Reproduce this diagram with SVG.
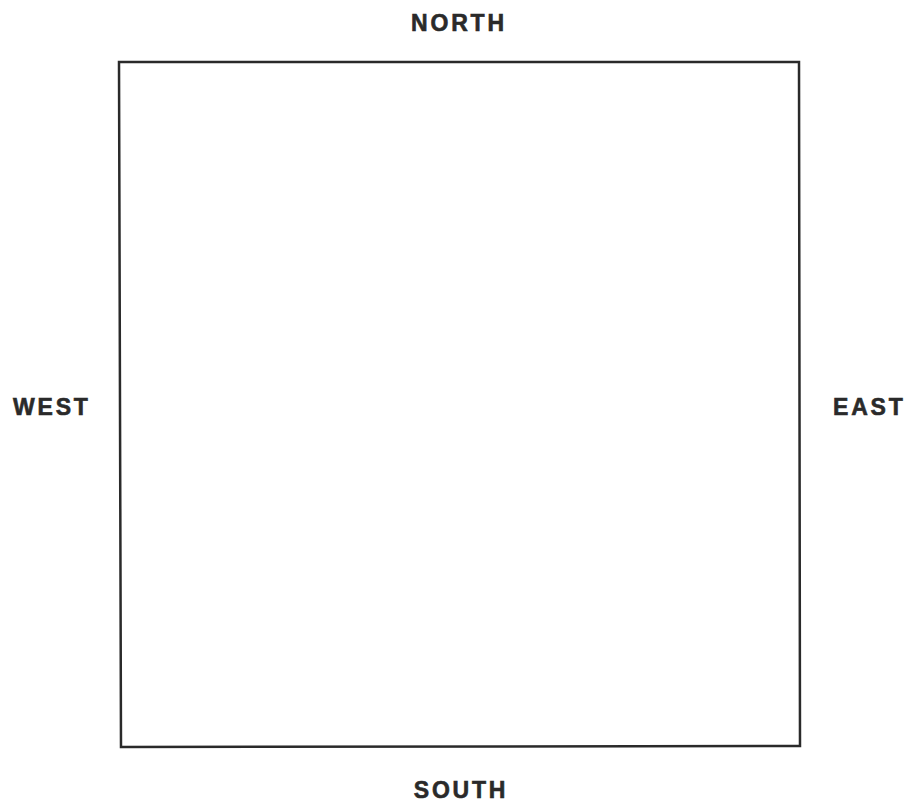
<svg xmlns="http://www.w3.org/2000/svg" width="911" height="805" viewBox="0 0 911 805">
<style>
.lbl{font-family:"Liberation Sans",Arial,sans-serif;font-weight:bold;font-size:23px;fill:#2a2a2a;stroke:#2a2a2a;stroke-width:0.6;letter-spacing:2.8px}
.box{fill:none;stroke:#2a2a2a;stroke-width:2.5}
</style>
<rect width="911" height="805" fill="#ffffff"/>
<g id="square"><polygon class="box" points="119,62 799,62 800,746 121,747"/></g>
<g id="north"><text class="lbl" x="459" y="31" text-anchor="middle">NORTH</text></g>
<g id="west"><text class="lbl" x="13" y="415">WEST</text></g>
<g id="east"><text class="lbl" x="833" y="415">EAST</text></g>
<g id="south"><text class="lbl" x="461" y="798" text-anchor="middle">SOUTH</text></g>
<g id="connectors"></g>
</svg>
